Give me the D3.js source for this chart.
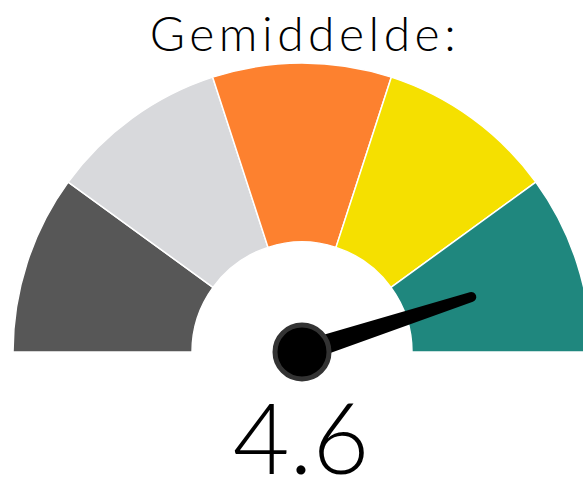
<!DOCTYPE html>
<html><head><meta charset="utf-8">
<script src="https://cdn.jsdelivr.net/npm/d3@7"></script>
<style>html,body{margin:0;padding:0;background:#fff;}svg{display:block;}</style>
</head><body>
<svg id="chart" width="583" height="482"></svg>
<script>
const title = "Gemiddelde:";
const bands = [1, 2, 3, 4, 5];           // band index (scale 1..5 split into 5 bands)
const bandColors = ["#575757", "#d8d9dc", "#fd812f", "#f5e000", "#1f877e"];
const scaleMin = 1, scaleMax = 5;
const value = 4.6;
const valueLabel = "4.6";

const svg = d3.select("#chart");
const cx = 302, cy = 352, rOuter = 289, rInner = 110;

const angle = d3.scaleLinear().domain([0, bands.length]).range([-Math.PI/2, Math.PI/2]);
const arc = d3.arc().innerRadius(rInner).outerRadius(rOuter);

const g = svg.append("g").attr("transform", `translate(${cx},${cy})`);
g.selectAll("path.band").data(bands).join("path")
  .attr("class","band")
  .attr("d", (d,i) => arc({startAngle: angle(i), endAngle: angle(i+1)}))
  .attr("fill", (d,i) => bandColors[i])
  .attr("stroke", "#fff").attr("stroke-width", 1.5);

// needle
const vScale = d3.scaleLinear().domain([scaleMin, scaleMax]).range([-90, 90]);
const a = vScale(value);
const len = 178, baseW = 10.5, tipW = 5;
const needle = g.append("g").attr("transform", `rotate(${a})`);
needle.append("path")
  .attr("d", `M${-baseW},0 L${-tipW},${-len} A${tipW},${tipW} 0 0 1 ${tipW},${-len} L${baseW},0 Z`)
  .attr("fill", "#000");
g.append("circle").attr("r", 27).attr("fill", "#000")
  .attr("stroke", "#333").attr("stroke-width", 5);

svg.append("text").attr("x", 305).attr("y", 51)
  .attr("text-anchor","middle")
  .attr("font-family","Lato, 'DejaVu Sans', sans-serif")
  .attr("font-weight", 300)
  .attr("font-size", 48)
  .attr("letter-spacing", 4.5)
  .attr("fill","#000")
  .text(title);

svg.append("text").attr("x", 301).attr("y", 474)
  .attr("text-anchor","middle")
  .attr("font-family","Lato, 'DejaVu Sans', sans-serif")
  .attr("font-weight", 300)
  .attr("font-size", 98)
  .attr("fill","#000")
  .text(valueLabel);
</script>
</body></html>
